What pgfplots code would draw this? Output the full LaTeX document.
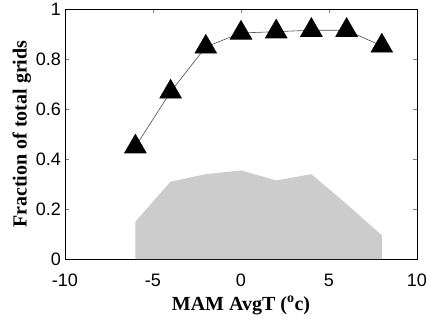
\documentclass[border=0pt]{standalone}
\usepackage{fontspec}
\setmainfont{Liberation Serif}
\newfontfamily\arialf{Liberation Sans}
\usepackage{pgfplots}
\pgfplotsset{compat=1.18}
\definecolor{areagray}{RGB}{204,204,204}
\begin{document}
\begin{tikzpicture}
\useasboundingbox (0,0) rectangle (426bp,321bp);
\begin{axis}[
  at={(65bp,62bp)}, anchor=south west,
  scale only axis, width=352bp, height=249.5bp,
  xmin=-10, xmax=10, ymin=0, ymax=1,
  xtick={-10,-5,0,5,10}, ytick={0,0.2,0.4,0.6,0.8,1},
  tick align=inside, major tick length=4bp,
  axis line style={line width=0.8bp},
  /pgf/number format/assume math mode=true,
  tick label style={font=\arialf\fontsize{18bp}{18bp}\selectfont, inner sep=0pt},
  xticklabel style={anchor=base, yshift=-27.7bp},
  yticklabel style={anchor=east, xshift=-4bp},
  xlabel={MAM AvgT (\textsuperscript{o}c)},
  label style={font=\bfseries\fontsize{20bp}{20bp}\selectfont, inner sep=0pt},
  xlabel style={at={(axis description cs:0.5,0)}, anchor=base, yshift=-51bp},
  clip=false,
]
\addplot[fill=areagray, draw=none] coordinates {
  (-6,0) (-6,0.15) (-4,0.31) (-2,0.34) (0,0.355) (2,0.315) (4,0.34) (6,0.22) (8,0.095) (8,0)
} \closedcycle;
\addplot[black!70, line width=0.6bp, mark=triangle*, mark size=12.5bp,
  mark options={fill=black, draw=black, solid}] coordinates {
  (-6,0.45) (-4,0.67) (-2,0.85) (0,0.906) (2,0.911) (4,0.917) (6,0.917) (8,0.854)
};
\node[rotate=90, anchor=base, inner sep=0pt, font=\bfseries\fontsize{20bp}{20bp}\selectfont]
  at ([xshift=-38.3bp]rel axis cs:0,0.5) {Fraction of total grids};
\end{axis}
\end{tikzpicture}
\end{document}
